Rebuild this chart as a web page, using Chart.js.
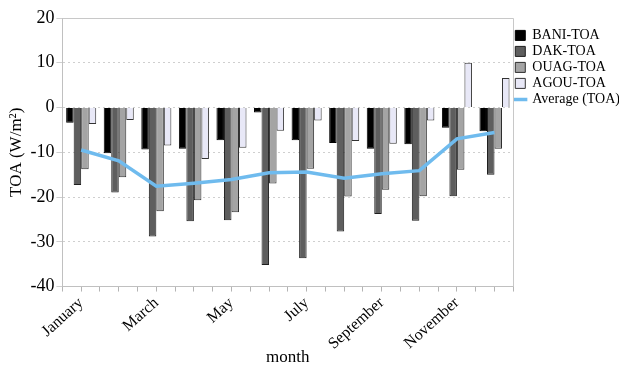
<!DOCTYPE html>
<html>
<head>
<meta charset="utf-8">
<script src="https://cdn.jsdelivr.net/npm/chart.js@4/dist/chart.umd.min.js"></script>
<style>
  html, body { margin: 0; padding: 0; background: #ffffff; }
  #wrap { width: 619px; height: 370px; }
</style>
</head>
<body>
<div id="wrap"><canvas id="c" width="619" height="370"></canvas></div>
<script>
const months = ["January","February","March","April","May","June","July","August","September","October","November","December"];
const bani = [-3.4, -10.2, -9.4, -9.2, -7.3, -1.1, -7.3, -7.9, -9.2, -8.2, -4.5, -5.3];
const dak  = [-17.3, -19.0, -28.8, -25.4, -25.2, -35.2, -33.7, -27.7, -23.8, -25.3, -19.8, -15.0];
const ouag = [-13.8, -15.6, -23.2, -20.7, -23.4, -17.0, -13.7, -19.9, -18.4, -19.8, -13.9, -9.2];
const agou = [-3.7, -2.8, -8.5, -11.5, -9.0, -5.2, -2.9, -7.5, -8.1, -2.9, 10.0, 6.6];
const avg  = [-9.5, -11.9, -17.6, -16.9, -16.1, -14.6, -14.4, -15.8, -14.8, -14.1, -7.0, -5.6];
const yTicks = [20, 10, 0, -10, -20, -30, -40];

const serif = "'Liberation Serif', 'DejaVu Serif', serif";

const frame = {
  id: 'frame',
  afterDraw(chart) {
    const a = chart.chartArea, ctx = chart.ctx;
    ctx.save();
    ctx.strokeStyle = '#c8c8c8';
    ctx.lineWidth = 1;
    ctx.beginPath();
    ctx.moveTo(a.left, Math.round(a.top) + 0.5);
    ctx.lineTo(Math.round(a.right) + 0.5, Math.round(a.top) + 0.5);
    ctx.lineTo(Math.round(a.right) + 0.5, a.bottom);
    ctx.stroke();
    ctx.restore();
  }
};

new Chart(document.getElementById('c'), {
  data: {
    labels: months,
    datasets: [
      { type: 'bar', label: 'BANI-TOA', data: bani, backgroundColor: '#000000', borderColor: '#000000', borderWidth: 1, pointStyle: 'rect', order: 1 },
      { type: 'bar', label: 'DAK-TOA', data: dak, backgroundColor: '#5e5e5e', borderColor: '#1e1e1e', borderWidth: 1, pointStyle: 'rect', order: 1 },
      { type: 'bar', label: 'OUAG-TOA', data: ouag, backgroundColor: '#a4a4a4', borderColor: '#2e2e2e', borderWidth: 1, pointStyle: 'rect', order: 1 },
      { type: 'bar', label: 'AGOU-TOA', data: agou, backgroundColor: '#e8e8f7', borderColor: '#333333', borderWidth: 1, pointStyle: 'rect', order: 1 },
      { type: 'line', label: 'Average (TOA)', data: avg, borderColor: '#6fbbee', backgroundColor: '#6fbbee', borderWidth: 3.5, pointRadius: 0, pointStyle: 'line', tension: 0, order: 0 }
    ]
  },
  options: {
    responsive: false,
    devicePixelRatio: 1,
    animation: false,
    layout: { padding: { top: 18, left: 4, right: -11, bottom: 2 } },
    datasets: { bar: { barPercentage: 1.0, categoryPercentage: 0.8 } },
    plugins: {
      legend: {
        position: 'right',
        align: 'start',
        labels: {
          color: '#000',
          font: { family: serif, size: 14 },
          usePointStyle: true,
          boxWidth: 10,
          boxHeight: 10,
          padding: 2,
          sort: (a, b) => a.datasetIndex - b.datasetIndex
        },
        title: { display: true, text: ' ', font: { size: 2 }, padding: 3 }
      },
      tooltip: { enabled: false }
    },
    scales: {
      x: {
        offset: true,
        weight: 1,
        grid: { display: false },
        border: { display: false },
        ticks: {
          autoSkip: false,
          maxRotation: 42,
          minRotation: 42,
          padding: -6,
          color: '#000',
          font: { family: serif, size: 16 },
          callback: function (v, i) { return i % 2 === 0 ? months[i] : ''; }
        },
        title: { display: true, text: 'month', color: '#000', font: { family: serif, size: 17 }, padding: { top: 0, bottom: 0 } }
      },
      x2: {
        type: 'linear',
        position: 'bottom',
        weight: 0,
        min: 0,
        max: 24,
        ticks: { display: false, stepSize: 1 },
        grid: { drawOnChartArea: false, color: '#b4b4b4', tickLength: 5 },
        border: { display: true, color: '#c0c0c0' }
      },
      y: {
        min: -40,
        max: 20,
        afterBuildTicks: (s) => { s.ticks = yTicks.map(v => ({ value: v })); },
        grid: { color: '#cfcfcf', tickLength: 6 },
        border: { color: '#c0c0c0', dash: [2, 3] },
        ticks: { color: '#000', font: { family: serif, size: 18 }, padding: 2 },
        title: { display: true, text: 'TOA (W/m²)', color: '#000', font: { family: serif, size: 17 }, padding: 2 }
      }
    }
  },
  plugins: [frame]
});
</script>
</body>
</html>
